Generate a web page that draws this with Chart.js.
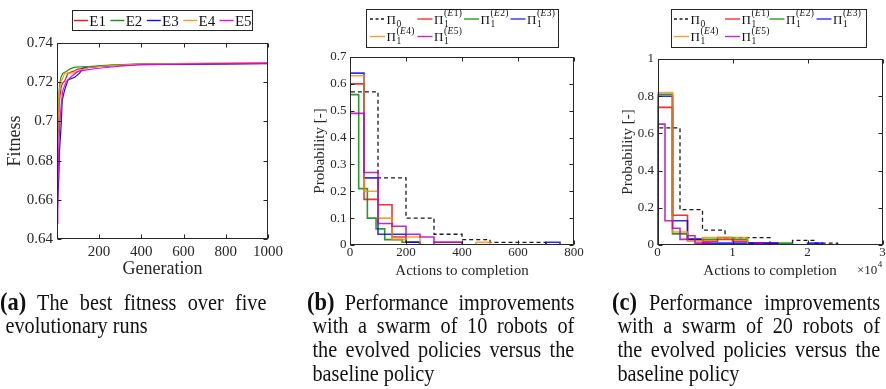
<!DOCTYPE html>
<html>
<head>
<meta charset="utf-8">
<script src="https://cdn.jsdelivr.net/npm/chart.js@4.4.1/dist/chart.umd.min.js"></script>
<style>
  html, body { margin: 0; padding: 0; background: #fff; }
  #wrap { position: relative; width: 886px; height: 389px; overflow: hidden; background: #fff; }
  #wrap canvas { position: absolute; left: 0; top: 0; }
  .cap { position: absolute; font-family: "Liberation Serif", "Times New Roman", serif; font-size: 22.5px;
         color: #111; transform-origin: 0 0; transform: scaleX(0.9); }
  .cap div { height: 24px; line-height: 24px; overflow: visible; }
  .cap .j { text-align: justify; text-align-last: justify; }
  .cap .in { padding-left: 6px; }
  .cap b { font-size: 25px; line-height: 24px; }
</style>
</head>
<body>
<div id="wrap">
  <canvas id="chartA" width="886" height="389" style="width:886px;height:389px"></canvas>
  <canvas id="chartB" width="886" height="389" style="width:886px;height:389px"></canvas>
  <canvas id="chartC" width="886" height="389" style="width:886px;height:389px"></canvas>

  <div class="cap" style="left:0px;top:290px;width:296px">
    <div class="j"><b>(a)</b> The best fitness over five</div>
    <div class="in">evolutionary runs</div>
  </div>
  <div class="cap" style="left:307px;top:290px;width:297px">
    <div class="j"><b>(b)</b> Performance improvements</div>
    <div class="j in">with a swarm of 10 robots of</div>
    <div class="j in">the evolved policies versus the</div>
    <div class="in">baseline policy</div>
  </div>
  <div class="cap" style="left:612px;top:290px;width:298px">
    <div class="j"><b>(c)</b> Performance improvements</div>
    <div class="j in">with a swarm of 20 robots of</div>
    <div class="j in">the evolved policies versus the</div>
    <div class="in">baseline policy</div>
  </div>
</div>

<script>
// ---------------- data: best fitness per generation (five evolutionary runs) ----------------
const runNames = ['E1', 'E2', 'E3', 'E4', 'E5'];

const genE1 = [1, 3, 6, 10, 14, 20, 27, 37, 53, 76, 100, 150, 200, 300, 450, 700, 1000];
const fitE1 = [0.666, 0.680, 0.695, 0.706, 0.712, 0.717, 0.7195, 0.7205, 0.7246, 0.7255, 0.7267, 0.7275, 0.7282, 0.7288, 0.7293, 0.7295, 0.7296];

const genE2 = [1, 3, 6, 10, 14, 20, 29, 45, 61, 85, 150, 250, 400, 1000];
const fitE2 = [0.670, 0.690, 0.705, 0.714, 0.719, 0.7225, 0.7246, 0.7255, 0.7267, 0.7277, 0.7280, 0.7287, 0.7293, 0.7296];

const genE3 = [1, 10, 13, 21, 26, 37, 53, 85, 108, 124, 204, 378, 1000];
const fitE3 = [0.6496, 0.673, 0.685, 0.699, 0.711, 0.716, 0.7212, 0.7225, 0.7246, 0.7272, 0.7280, 0.7289, 0.7295];

const genE4 = [1, 3, 6, 10, 14, 20, 29, 37, 76, 100, 116, 150, 250, 400, 700, 1000];
const fitE4 = [0.668, 0.688, 0.703, 0.712, 0.717, 0.7205, 0.7221, 0.7246, 0.7246, 0.7255, 0.7263, 0.7275, 0.7285, 0.7292, 0.7297, 0.7300];

const genE5 = [1, 5, 10, 15, 22, 29, 45, 69, 100, 140, 188, 283, 400, 1000];
const fitE5 = [0.648, 0.668, 0.688, 0.700, 0.710, 0.716, 0.7203, 0.7229, 0.7255, 0.7263, 0.7270, 0.7280, 0.7290, 0.7297];

const fitnessTicks = [0.64, 0.66, 0.68, 0.70, 0.72, 0.74];
const fitnessTickLabels = ['0.64', '0.66', '0.68', '0.7', '0.72', '0.74'];
const generationTicks = [200, 400, 600, 800, 1000];
const generationTickLabels = ['200', '400', '600', '800', '1000'];

// ---------------- data: actions-to-completion histograms ----------------
// legend names: Π0 (baseline) and Π1^(Ek) (evolved policies)
const policySub = ['0', '1', '1', '1', '1', '1'];
const policySup = ['', '(E1)', '(E2)', '(E3)', '(E4)', '(E5)'];

// swarm of 10 robots: bin edges and probabilities
const edges10Pi0 = [0, 100, 200, 300, 400, 500, 600, 700];
const prob10Pi0  = [0.57, 0.25, 0.10, 0.04, 0.02, 0.01, 0.01];
const edges10E1  = [0, 50, 100, 150, 200, 250, 300, 350, 400];
const prob10E1   = [0.60, 0.17, 0.15, 0.03, 0.01, 0.00, 0.01, 0.01];
const edges10E2  = [0, 31, 62, 93, 124, 155, 186, 217, 248];
const prob10E2   = [0.56, 0.21, 0.10, 0.06, 0.02, 0.02, 0.01, 0.01];
const edges10E3  = [0, 50, 100, 150, 200, 250, 300, 350, 400, 450, 500, 550, 600, 650, 700, 750];
const prob10E3   = [0.64, 0.25, 0.04, 0.04, 0.01, 0.00, 0.00, 0.00, 0.00, 0.00, 0.00, 0.00, 0.00, 0.00, 0.01];
const edges10E4  = [0, 50, 100, 150, 200, 250, 300, 350, 400, 450, 500];
const prob10E4   = [0.63, 0.20, 0.10, 0.02, 0.03, 0.00, 0.00, 0.00, 0.00, 0.01];
const edges10E5  = [0, 50, 100, 150, 200, 250, 300, 350, 400];
const prob10E5   = [0.49, 0.27, 0.08, 0.07, 0.04, 0.03, 0.01, 0.01];

const actions10Ticks = [0, 200, 400, 600, 800];
const actions10TickLabels = ['0', '200', '400', '600', '800'];
const prob10Ticks = [0, 0.1, 0.2, 0.3, 0.4, 0.5, 0.6, 0.7];
const prob10TickLabels = ['0', '0.1', '0.2', '0.3', '0.4', '0.5', '0.6', '0.7'];

// swarm of 20 robots: bin edges and probabilities
const edges20Pi0 = [0, 3000, 6000, 9000, 12000, 15000, 18000, 21000, 24000];
const prob20Pi0  = [0.63, 0.19, 0.08, 0.04, 0.04, 0.00, 0.025, 0.01];
const edges20E1  = [0, 2000, 4000, 6000, 8000, 10000, 12000, 14000, 16000];
const prob20E1   = [0.74, 0.16, 0.03, 0.02, 0.03, 0.02, 0.01, 0.01];
const edges20E2  = [0, 2000, 4000, 6000, 8000, 10000, 12000, 14000, 16000, 18000];
const prob20E2   = [0.81, 0.06, 0.03, 0.03, 0.04, 0.03, 0.01, 0.00, 0.01];
const edges20E3  = [0, 2000, 4000, 6000, 8000, 10000, 12000, 14000, 16000, 18000, 20000, 22000];
const prob20E3   = [0.80, 0.13, 0.03, 0.01, 0.01, 0.01, 0.01, 0.01, 0.00, 0.00, 0.01];
const edges20E4  = [0, 2000, 4000, 6000, 8000, 10000, 12000];
const prob20E4   = [0.82, 0.07, 0.02, 0.04, 0.04, 0.04];
const edges20E5  = [0, 1000, 2000, 3000, 4000, 5000, 6000, 7000, 8000, 9000, 10000, 11000, 12000, 13000, 14000];
const prob20E5   = [0.65, 0.13, 0.09, 0.03, 0.05, 0.01, 0.01, 0.00, 0.00, 0.00, 0.00, 0.00, 0.00, 0.01];

const actions20Ticks = [0, 10000, 20000, 30000];
const actions20TickLabels = ['0', '1', '2', '3'];
const prob20Ticks = [0, 0.2, 0.4, 0.6, 0.8, 1];
const prob20TickLabels = ['0', '0.2', '0.4', '0.6', '0.8', '1'];

// ---------------- styling ----------------
const SERIF = '"Liberation Serif", "Times New Roman", serif';
const INK = '#262626';
const runColors  = ['rgba(255,0,0,0.95)', 'rgba(0,150,0,0.95)', 'rgba(0,0,255,0.95)', 'rgba(255,150,30,0.95)', 'rgba(230,0,230,0.95)'];
const histColors = ['#1a1a1a', 'rgba(255,0,0,0.82)', 'rgba(0,128,0,0.82)', 'rgba(0,0,255,0.82)', 'rgba(255,140,0,0.82)', 'rgba(190,0,190,0.85)'];

// ---------------- helpers ----------------
function toPoints(xs, ys) {
  return xs.map((x, i) => ({ x: x, y: ys[i] }));
}
// stair outline of a histogram: rises from zero at the first edge, falls back to zero at the last
function stairPoints(edges, probs) {
  const pts = [{ x: edges[0], y: 0 }];
  probs.forEach((p, i) => pts.push({ x: edges[i], y: p }));
  pts.push({ x: edges[edges.length - 1], y: 0 });
  return pts;
}

function axisCfg(o) {
  return {
    type: 'linear', min: o.min, max: o.max,
    grid: { display: false, drawTicks: false },
    border: { display: false },
    ticks: {
      autoSkip: false, minRotation: 0, maxRotation: 0, padding: o.pad, color: INK,
      font: { family: SERIF, size: o.size },
      callback: (v, i) => o.labels[i]
    },
    afterBuildTicks: s => { s.ticks = o.ticks.map(v => ({ value: v })); },
    afterFit: s => { if (o.horizontal) s.height = o.fit; else s.width = o.fit; },
    title: { display: true, text: o.title, color: INK, font: { family: SERIF, size: o.titleSize }, padding: o.titlePad }
  };
}

// MATLAB-style boxed axes with inward tick marks on all four sides
const axesBox = {
  id: 'axesBox',
  afterDatasetsDraw(chart) {
    const { ctx, chartArea: a, scales } = chart;
    const L = Math.round(a.left) + 0.5, R = Math.round(a.right) - 0.5;
    const T = Math.round(a.top) + 0.5, B = Math.round(a.bottom) - 0.5;
    const tl = 4;
    ctx.save();
    ctx.strokeStyle = INK;
    ctx.lineWidth = 1;
    ctx.beginPath();
    scales.x.ticks.forEach(t => {
      const p = Math.round(scales.x.getPixelForValue(t.value)) + 0.5;
      ctx.moveTo(p, B); ctx.lineTo(p, B - tl);
      ctx.moveTo(p, T); ctx.lineTo(p, T + tl);
    });
    scales.y.ticks.forEach(t => {
      const p = Math.round(scales.y.getPixelForValue(t.value)) + 0.5;
      ctx.moveTo(L, p); ctx.lineTo(L + tl, p);
      ctx.moveTo(R, p); ctx.lineTo(R - tl, p);
    });
    ctx.stroke();
    ctx.strokeRect(L, T, R - L, B - T);
    ctx.restore();
  }
};

function legendFrame(ctx, box) {
  ctx.fillStyle = '#fff';
  ctx.fillRect(box[0], box[1], box[2] - box[0], box[3] - box[1]);
  ctx.strokeStyle = INK;
  ctx.lineWidth = 1;
  ctx.strokeRect(box[0], box[1], box[2] - box[0], box[3] - box[1]);
}

function sampleLine(ctx, x, y, len, color, dashed) {
  ctx.save();
  ctx.strokeStyle = color;
  ctx.lineWidth = 1.4;
  if (dashed) ctx.setLineDash([3, 2.5]);
  ctx.beginPath();
  ctx.moveTo(x, y); ctx.lineTo(x + len, y);
  ctx.stroke();
  ctx.restore();
}

// Π with subscript and optional superscript such as (E1)
function drawPi(ctx, x, base, sub, sup) {
  ctx.fillStyle = '#111';
  ctx.textBaseline = 'alphabetic';
  ctx.textAlign = 'left';
  ctx.font = '13px ' + SERIF;
  ctx.fillText('Π', x, base);
  const w = ctx.measureText('Π').width;
  ctx.font = '9.5px ' + SERIF;
  ctx.fillText(sub, x + w + 0.5, base + 3);
  if (sup) {
    let sx = x + w + 0.5;
    const sb = base - 7.5;
    for (const ch of sup) {
      ctx.font = (/[A-Z]/.test(ch) ? 'italic ' : '') + '9.5px ' + SERIF;
      ctx.fillText(ch, sx, sb);
      sx += ctx.measureText(ch).width + 0.4;
    }
  }
}

function policyLegend(box, cols, rows) {
  return {
    id: 'policyLegend',
    afterDraw(chart) {
      const ctx = chart.ctx;
      ctx.save();
      legendFrame(ctx, box);
      chart.data.datasets.forEach((ds, i) => {
        const cx = cols[i % 4], cy = rows[Math.floor(i / 4)];
        sampleLine(ctx, cx, cy, 15, ds.borderColor, i === 0);
        drawPi(ctx, cx + 16.5, cy + 4.5, policySub[i], policySup[i]);
      });
      ctx.restore();
    }
  };
}

const runLegend = {
  id: 'runLegend',
  afterDraw(chart) {
    const ctx = chart.ctx;
    ctx.save();
    legendFrame(ctx, [72.5, 10.5, 252.5, 30.5]);
    chart.data.datasets.forEach((ds, i) => {
      const cx = 74 + 36.4 * i;
      sampleLine(ctx, cx, 20.5, 14, ds.borderColor, false);
      ctx.fillStyle = '#111';
      ctx.font = '15px ' + SERIF;
      ctx.textBaseline = 'alphabetic';
      ctx.fillText(runNames[i], cx + 15.3, 25.5);
    });
    ctx.restore();
  }
};

const multiplierLabel = {
  id: 'multiplierLabel',
  afterDraw(chart) {
    const ctx = chart.ctx;
    ctx.save();
    ctx.fillStyle = INK;
    ctx.textBaseline = 'alphabetic';
    ctx.font = '13px ' + SERIF;
    ctx.fillText('×10', 857, 274);
    const w = ctx.measureText('×10').width;
    ctx.font = '9px ' + SERIF;
    ctx.fillText('4', 857 + w + 0.5, 267);
    ctx.restore();
  }
};

const common = {
  responsive: false, animation: false, devicePixelRatio: 1,
  plugins: { legend: { display: false }, tooltip: { enabled: false } },
  elements: { point: { radius: 0 }, line: { tension: 0 } },
  events: []
};

// ---------------- (a) best fitness ----------------
const gens = [genE1, genE2, genE3, genE4, genE5];
const fits = [fitE1, fitE2, fitE3, fitE4, fitE5];
new Chart(document.getElementById('chartA'), {
  type: 'line',
  data: {
    datasets: runNames.map((n, i) => ({
      label: n, data: toPoints(gens[i], fits[i]),
      borderColor: runColors[i], borderWidth: 1.2, fill: false, order: runNames.length - i
    }))
  },
  options: Object.assign({}, common, {
    layout: { padding: { left: 0, right: 618, top: 43, bottom: 109 } },
    scales: {
      x: axisCfg({ min: 1, max: 1000, ticks: generationTicks, labels: generationTickLabels, size: 15, pad: 4,
                   title: 'Generation', titleSize: 18, titlePad: { top: 0, bottom: 0 }, fit: 41, horizontal: true }),
      y: axisCfg({ min: 0.64, max: 0.74, ticks: fitnessTicks, labels: fitnessTickLabels, size: 15, pad: 4,
                   title: 'Fitness', titleSize: 18, titlePad: { top: 4, bottom: 0 }, fit: 57, horizontal: false })
    }
  }),
  plugins: [axesBox, runLegend]
});

// ---------------- (b) swarm of 10 robots ----------------
const edges10 = [edges10Pi0, edges10E1, edges10E2, edges10E3, edges10E4, edges10E5];
const probs10 = [prob10Pi0, prob10E1, prob10E2, prob10E3, prob10E4, prob10E5];
new Chart(document.getElementById('chartB'), {
  type: 'line',
  data: {
    datasets: edges10.map((e, i) => ({
      data: stairPoints(e, probs10[i]), stepped: true,
      borderColor: histColors[i], borderWidth: i === 0 ? 1.3 : 1.6,
      borderDash: i === 0 ? [4, 3] : [], fill: false, order: edges10.length - i
    }))
  },
  options: Object.assign({}, common, {
    layout: { padding: { left: 310, right: 312, top: 57, bottom: 109 } },
    scales: {
      x: axisCfg({ min: 0, max: 800, ticks: actions10Ticks, labels: actions10TickLabels, size: 13, pad: 0,
                   title: 'Actions to completion', titleSize: 15, titlePad: { top: 0, bottom: 0 }, fit: 35, horizontal: true }),
      y: axisCfg({ min: 0, max: 0.7, ticks: prob10Ticks, labels: prob10TickLabels, size: 13, pad: 3.5,
                   title: 'Probability [-]', titleSize: 15, titlePad: { top: 1, bottom: 0 }, fit: 40, horizontal: false })
    }
  }),
  plugins: [axesBox, policyLegend([366.5, 9.5, 558.5, 47.5], [370, 417.5, 464, 510.5], [19, 36.5])]
});

// ---------------- (c) swarm of 20 robots ----------------
const edges20 = [edges20Pi0, edges20E1, edges20E2, edges20E3, edges20E4, edges20E5];
const probs20 = [prob20Pi0, prob20E1, prob20E2, prob20E3, prob20E4, prob20E5];
new Chart(document.getElementById('chartC'), {
  type: 'line',
  data: {
    datasets: edges20.map((e, i) => ({
      data: stairPoints(e, probs20[i]), stepped: true,
      borderColor: histColors[i], borderWidth: i === 0 ? 1.3 : 1.6,
      borderDash: i === 0 ? [4, 3] : [], fill: false, order: edges20.length - i
    }))
  },
  options: Object.assign({}, common, {
    layout: { padding: { left: 617.5, right: 3.5, top: 59, bottom: 109 } },
    scales: {
      x: axisCfg({ min: 0, max: 30000, ticks: actions20Ticks, labels: actions20TickLabels, size: 13, pad: 0,
                   title: 'Actions to completion', titleSize: 15, titlePad: { top: 0, bottom: 0 }, fit: 35, horizontal: true }),
      y: axisCfg({ min: 0, max: 1, ticks: prob20Ticks, labels: prob20TickLabels, size: 13, pad: 3.5,
                   title: 'Probability [-]', titleSize: 15, titlePad: { top: 1.5, bottom: 0 }, fit: 40, horizontal: false })
    }
  }),
  plugins: [axesBox, policyLegend([671.5, 9.5, 866.5, 47.5], [674, 725, 769.5, 816.5], [19, 36.5]), multiplierLabel]
});
</script>
</body>
</html>
